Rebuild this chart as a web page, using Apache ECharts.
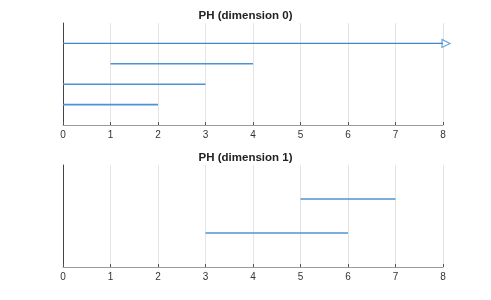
<!DOCTYPE html>
<html><head><meta charset="utf-8">
<script src="https://cdn.jsdelivr.net/npm/echarts@6/dist/echarts.min.js"></script>
<style>html,body{margin:0;padding:0;background:#fff}#c{width:491px;height:300px}</style>
</head><body><div id="c"></div>
<script>
const titles = ['PH (dimension 0)', 'PH (dimension 1)'];
const xTicks = [0,1,2,3,4,5,6,7,8];
const dim0Births = [0, 0, 1, 0];
const dim0Deaths = [2, 3, 4, Infinity];
const dim0Levels = [1, 2, 3, 4];
const dim1Births = [3, 5];
const dim1Deaths = [6, 7];
const dim1Levels = [1, 2];
const xMax = 8;

const color = '#4d93d3';
const series = [];
function addBars(births, deaths, levels, idx) {
  births.forEach((b, i) => {
    const inf = !isFinite(deaths[i]);
    const d = inf ? xMax : deaths[i];
    series.push({
      type: 'line', xAxisIndex: idx, yAxisIndex: idx,
      data: [[b, levels[i]], [d, levels[i]]],
      showSymbol: false, symbol: 'none', silent: true,
      lineStyle: { color: inf ? '#3f88cc' : color, width: inf ? 1.2 : 1.6 }
    });
    if (inf) {
      series.push({
        type: 'scatter', xAxisIndex: idx, yAxisIndex: idx,
        data: [[d, levels[i]]], symbol: 'triangle', symbolRotate: -90,
        symbolSize: [8, 8], symbolOffset: [3, 0], silent: true,
        itemStyle: { color: '#fff', borderColor: '#3f88cc', borderWidth: 1.1 }
      });
    }
  });
}
addBars(dim0Births, dim0Deaths, dim0Levels, 0);
addBars(dim1Births, dim1Deaths, dim1Levels, 1);

function xAx(gi) {
  return {
    type: 'value', gridIndex: gi, min: 0, max: xMax, interval: 1,
    axisLine: { lineStyle: { color: '#9a9a9a', width: 1 } },
    axisTick: { show: true, inside: true, length: 3, lineStyle: { color: '#555' } },
    axisLabel: { color: '#333', fontSize: 10, margin: 5, fontFamily: 'Liberation Sans, Arial' },
    splitLine: { show: true, lineStyle: { color: '#e4e4e4', width: 1 } }
  };
}
function yAx(gi, max) {
  return {
    type: 'value', gridIndex: gi, min: 0, max: max,
    axisLine: { show: true, onZero: false, lineStyle: { color: '#444', width: 1 } },
    axisTick: { show: false }, axisLabel: { show: false },
    splitLine: { show: false }
  };
}
const chart = echarts.init(document.getElementById('c'), null, { renderer: 'canvas' });
const tStyle = { fontSize: 11.5, fontWeight: 'bold', color: '#222', fontFamily: 'Liberation Sans, Arial' };
chart.setOption({
  animation: false,
  backgroundColor: '#fff',
  title: [
    { text: titles[0], left: 'center', top: 5, textStyle: tStyle },
    { text: titles[1], left: 'center', top: 147, textStyle: tStyle }
  ],
  grid: [
    { left: 63, right: 48, top: 23, height: 102 },
    { left: 63, right: 48, top: 165, height: 102 }
  ],
  xAxis: [xAx(0), xAx(1)],
  yAxis: [yAx(0, 5), yAx(1, 3)],
  series: series
});
</script></body></html>
